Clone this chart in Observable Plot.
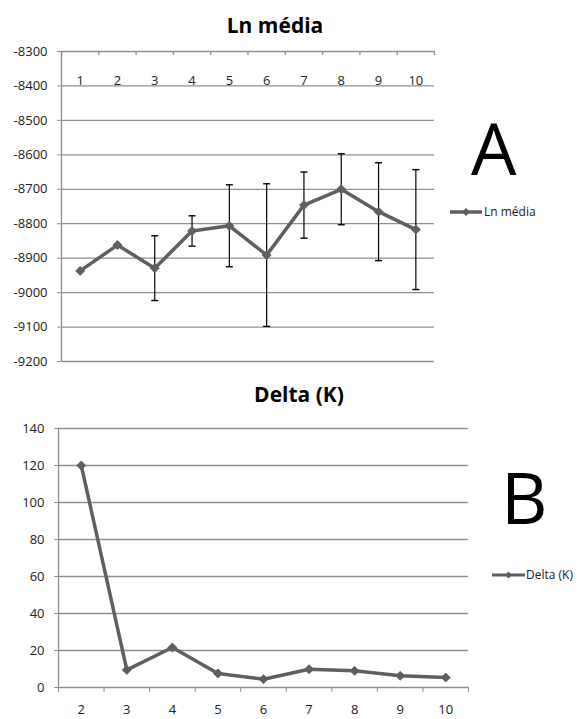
<!DOCTYPE html>
<html>
<head>
<meta charset="utf-8">
<script src="https://cdn.jsdelivr.net/npm/d3@7"></script>
<script src="https://cdn.jsdelivr.net/npm/@observablehq/plot@0.6"></script>
<style>
  html, body { margin: 0; padding: 0; background: #fff; }
  #wrap { position: relative; width: 579px; height: 719px; background: #fff; overflow: hidden; font-family: "Open Sans", sans-serif; }
  .abs { position: absolute; left: 0; }
  #overlay { position: absolute; left: 0; top: 0; pointer-events: none; }
</style>
</head>
<body>
<div id="wrap">
  <div id="plotA" class="abs" style="top:0"></div>
  <div id="plotB" class="abs" style="top:380px"></div>
  <svg id="overlay" width="579" height="719" font-family="Open Sans, sans-serif">
    <text x="275" y="33" text-anchor="middle" font-size="21" font-weight="bold" fill="#000">Ln média</text>
    <text x="299" y="402" text-anchor="middle" font-size="21" font-weight="bold" fill="#000">Delta (K)</text>
    <text x="471" y="175" font-size="72" fill="#000">A</text>
    <text x="501" y="524" font-size="72" fill="#000">B</text>
    <line x1="450" x2="482" y1="212" y2="212" stroke="#5f5f5f" stroke-width="3.5"/>
    <path d="M466,208 L470,212 L466,216 L462,212 Z" fill="#5f5f5f"/>
    <text x="484" y="216" font-size="12" fill="#222">Ln média</text>
    <line x1="492" x2="525" y1="575" y2="575" stroke="#5f5f5f" stroke-width="3"/>
    <path d="M508.5,571.5 L512,575 L508.5,578.5 L505,575 Z" fill="#5f5f5f"/>
    <text x="526" y="579" font-size="12" fill="#222">Delta (K)</text>
  </svg>
</div>
<script>
// ---------- Data ----------
const kA = [1, 2, 3, 4, 5, 6, 7, 8, 9, 10];
const lnMedia = [-8937, -8862, -8929, -8821, -8806, -8891, -8746, -8700, -8765, -8817];
const lnSd = [0, 0, 94, 44, 119, 207, 96, 103, 142, 174];
const yTicksA = [-8300, -8400, -8500, -8600, -8700, -8800, -8900, -9000, -9100, -9200];

const kB = [2, 3, 4, 5, 6, 7, 8, 9, 10];
const deltaK = [120, 9.5, 21.6, 7.6, 4.5, 9.9, 9.0, 6.3, 5.4];
const yTicksB = [0, 20, 40, 60, 80, 100, 120, 140];

// ---------- Styles ----------
const lineColor = "#5f5f5f";
const gridColor = "#8f8f8f";
const textColor = "#222";
const font = "Open Sans, sans-serif";

const rowsA = kA.map((k, i) => ({k, mean: lnMedia[i], sd: lnSd[i]}));
const errA = rowsA.filter(d => d.sd > 0).map(d => ({k: d.k, lo: d.mean - d.sd, hi: d.mean + d.sd}));
const capsA = errA.flatMap(d => [{k: d.k, v: d.lo}, {k: d.k, v: d.hi}]);
const rowsB = kB.map((k, i) => ({k, delta: deltaK[i]}));

// boundaries between categories (Excel-style ticks between labels)
const boundsA = [...kA.map(k => k - 0.5), kA[kA.length - 1] + 0.5];
const boundsB = [...kB.map(k => k - 0.5), kB[kB.length - 1] + 0.5];

// horizontal cap symbol for error bars
const capSymbol = {
  draw(context, size) {
    const w = 3.5;
    context.moveTo(-w, 0);
    context.lineTo(w, 0);
  }
};

// ---------- Panel A ----------
const A = {width: 579, height: 380, marginLeft: 61, marginRight: 145, marginTop: 51, marginBottom: 19};
const plotHA = A.height - A.marginTop - A.marginBottom;

const plotA = Plot.plot({
  ...A,
  style: {fontFamily: font, fontSize: "13px", color: textColor, background: "transparent", overflow: "visible"},
  x: {domain: [boundsA[0], boundsA[boundsA.length - 1]], axis: null},
  y: {domain: [yTicksA[yTicksA.length - 1], yTicksA[0]], label: null, axis: null},
  marks: [
    Plot.ruleY(yTicksA, {stroke: gridColor, strokeWidth: 1.3}),
    Plot.ruleX([boundsA[0]], {stroke: gridColor, strokeWidth: 1.3}),
    Plot.ruleX(boundsA, {x: d => d, stroke: gridColor, strokeWidth: 1.3, insetBottom: plotHA - 4}),
    Plot.axisY({ticks: yTicksA, tickSize: 4, tickPadding: 10, tickFormat: d => String(d), stroke: gridColor, fill: textColor, fontSize: 13, label: null}),
    Plot.text(kA, {x: d => d, text: d => String(d), frameAnchor: "top", dy: 24, fontSize: 13, fill: textColor}),
    Plot.ruleX(errA, {x: "k", y1: "lo", y2: "hi", stroke: "#000", strokeWidth: 1.2}),
    Plot.dot(capsA, {x: "k", y: "v", symbol: capSymbol, r: 3, stroke: "#000", fill: "none", strokeWidth: 1.4}),
    Plot.line(rowsA, {x: "k", y: "mean", stroke: lineColor, strokeWidth: 3.5}),
    Plot.dot(rowsA, {x: "k", y: "mean", symbol: "diamond2", r: 4, fill: lineColor, stroke: lineColor, strokeWidth: 1})
  ]
});
document.getElementById("plotA").appendChild(plotA);

// ---------- Panel B ----------
const B = {width: 579, height: 339, marginLeft: 58, marginRight: 111, marginTop: 48, marginBottom: 32};

const plotB = Plot.plot({
  ...B,
  style: {fontFamily: font, fontSize: "13px", color: textColor, background: "transparent", overflow: "visible"},
  x: {domain: [boundsB[0], boundsB[boundsB.length - 1]], axis: null},
  y: {domain: [yTicksB[0], yTicksB[yTicksB.length - 1]], label: null, axis: null},
  marks: [
    Plot.ruleY(yTicksB, {stroke: gridColor, strokeWidth: 1.3}),
    Plot.ruleX([boundsB[0]], {stroke: gridColor, strokeWidth: 1.3}),
    Plot.axisX({ticks: boundsB, tickSize: 5, tickFormat: () => "", stroke: gridColor, label: null}),
    Plot.axisY({ticks: yTicksB, tickSize: 4, tickPadding: 10, tickFormat: d => String(d), stroke: gridColor, fill: textColor, fontSize: 13, label: null}),
    Plot.text(kB, {x: d => d, text: d => String(d), frameAnchor: "bottom", dy: 26, fontSize: 13, fill: textColor}),
    Plot.line(rowsB, {x: "k", y: "delta", stroke: lineColor, strokeWidth: 3.5}),
    Plot.dot(rowsB, {x: "k", y: "delta", symbol: "diamond2", r: 4, fill: lineColor, stroke: lineColor, strokeWidth: 1})
  ]
});
document.getElementById("plotB").appendChild(plotB);
</script>
</body>
</html>
